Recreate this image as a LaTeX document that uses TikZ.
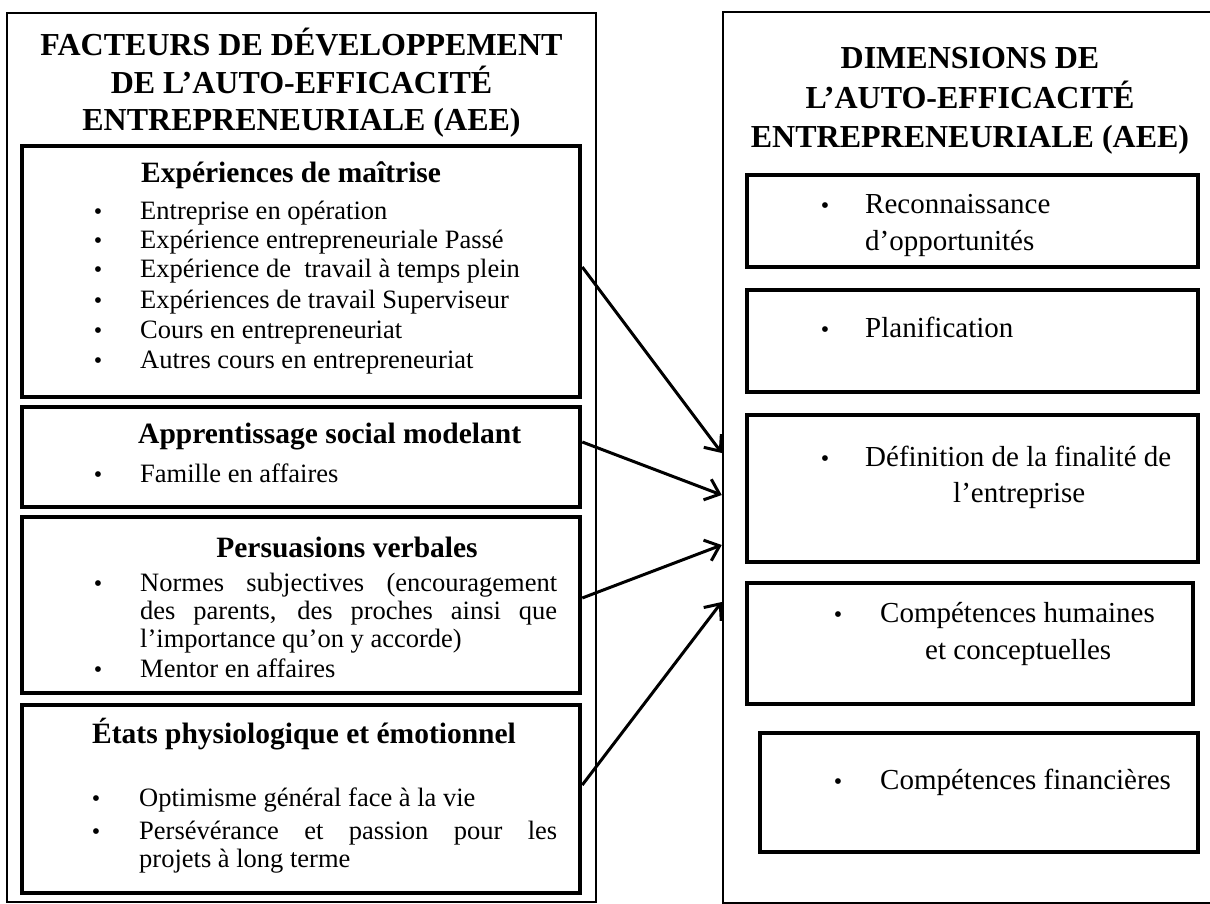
\documentclass[tikz,border=0pt]{standalone}
\usepackage{fontspec}
\setmainfont{Liberation Serif}[BoldFont={Liberation Serif Bold}]
\usetikzlibrary{arrows.meta}
\begin{document}
\begin{tikzpicture}[x=1pt,y=-1pt,
  outerbox/.style={draw, line width=2.5pt, inner sep=0pt},
  innerbox/.style={draw, line width=4.5pt, inner sep=0pt},
  rbox/.style={draw, line width=3.5pt, inner sep=0pt},
  titletxt/.style={font=\fontsize{32}{38}\selectfont\bfseries, anchor=base, inner sep=0pt},
  headtxt/.style={font=\fontsize{29.5}{34}\selectfont\bfseries, anchor=base west, inner sep=0pt},
  itemtxt/.style={font=\fontsize{26.5}{31}\selectfont, anchor=base west, inner sep=0pt},
  ritemtxt/.style={font=\fontsize{29}{35}\selectfont, anchor=base west, inner sep=0pt},
  bul/.style={font=\fontsize{24}{30}\selectfont, anchor=base, inner sep=0pt},
  arr/.style={line width=3pt, -{Straight Barb[length=13pt,width=22pt]}},
]
\path[use as bounding box, fill=white] (0,0) rectangle (1210,904);

% ---------- left column ----------
\node[outerbox, minimum width=589pt, minimum height=889pt] (L) at (301.5,457.5) {};
\node[titletxt] (lt1) at (301.5,56) {FACTEURS DE DÉVELOPPEMENT};
\node[titletxt] (lt2) at (301.5,94) {DE L’AUTO-EFFICACITÉ};
\node[titletxt] (lt3) at (301.5,131) {ENTREPRENEURIALE (AEE)};

\node[innerbox, minimum width=558pt, minimum height=251pt] (b1) at (301,271.5) {};
\node[innerbox, minimum width=558pt, minimum height=100pt] (b2) at (301,457) {};
\node[innerbox, minimum width=558pt, minimum height=176pt] (b3) at (301,605) {};
\node[innerbox, minimum width=558pt, minimum height=188pt] (b4) at (301,799) {};

% box 1
\node[headtxt] (h1) at (141,183) {Expériences de maîtrise};
\node[bul] (u11) at (98,219) {•};
\node[itemtxt] (i11) at (140,219) {Entreprise en opération};
\node[bul] (u12) at (98,248) {•};
\node[itemtxt] (i12) at (140,248) {Expérience entrepreneuriale Passé};
\node[bul] (u13) at (98,277) {•};
\node[itemtxt] (i13) at (140,277) {Expérience de\ \ travail à temps plein};
\node[bul] (u14) at (98,308) {•};
\node[itemtxt] (i14) at (140,308) {Expériences de travail Superviseur};
\node[bul] (u15) at (98,338) {•};
\node[itemtxt] (i15) at (140,338) {Cours en entrepreneuriat};
\node[bul] (u16) at (98,368) {•};
\node[itemtxt] (i16) at (140,368) {Autres cours en entrepreneuriat};

% box 2
\node[headtxt] (h2) at (138,443) {Apprentissage social modelant};
\node[bul] (u21) at (98,482) {•};
\node[itemtxt] (i21) at (140,482) {Famille en affaires};

% box 3
\node[headtxt, anchor=base] (h3) at (347,557) {Persuasions verbales};
\node[bul] (u31) at (98,591) {•};
\node[itemtxt] (i31) at (140,591) {\makebox[417pt][s]{Normes subjectives (encouragement}};
\node[itemtxt] (i32) at (140,619) {\makebox[417pt][s]{des parents, des proches ainsi que}};
\node[itemtxt] (i33) at (140,647) {l’importance qu’on y accorde)};
\node[bul] (u32) at (98,677) {•};
\node[itemtxt] (i34) at (140,677) {Mentor en affaires};

% box 4
\node[headtxt] (h4) at (92,743) {États physiologique et émotionnel};
\node[bul] (u41) at (96,806) {•};
\node[itemtxt] (i41) at (139,806) {Optimisme général face à la vie};
\node[bul] (u42) at (96,839) {•};
\node[itemtxt] (i42) at (139,839) {\makebox[418pt][s]{Persévérance et passion pour les}};
\node[itemtxt] (i43) at (139,867) {projets à long terme};

% ---------- right column ----------
\node[outerbox, minimum width=491pt, minimum height=891pt] (R) at (968.5,457.5) {};
\node[titletxt] (rt1) at (970,69) {DIMENSIONS DE};
\node[titletxt] (rt2) at (970,109) {L’AUTO-EFFICACITÉ};
\node[titletxt] (rt3) at (970,148) {ENTREPRENEURIALE (AEE)};

\node[rbox, minimum width=451pt, minimum height=92pt] (r1) at (972.5,221) {};
\node[rbox, minimum width=451pt, minimum height=102pt] (r2) at (972.5,341) {};
\node[rbox, minimum width=451pt, minimum height=147pt] (r3) at (972.5,488.5) {};
\node[rbox, minimum width=446pt, minimum height=121pt] (r4) at (970,643.5) {};
\node[rbox, minimum width=438pt, minimum height=119pt] (r5) at (979,792.5) {};

\node[bul] (v1) at (825,214) {•};
\node[ritemtxt] (j11) at (865,214) {Reconnaissance};
\node[ritemtxt] (j12) at (865,251) {d’opportunités};

\node[bul] (v2) at (825,337) {•};
\node[ritemtxt] (j21) at (865,337) {Planification};

\node[bul] (v3) at (825,466) {•};
\node[ritemtxt] (j31) at (865,466) {Définition de la finalité de};
\node[ritemtxt] (j32) at (953,502) {l’entreprise};

\node[bul] (v4) at (838,622) {•};
\node[ritemtxt] (j41) at (880,622) {Compétences humaines};
\node[ritemtxt] (j42) at (925,659) {et conceptuelles};

\node[bul] (v5) at (838,789) {•};
\node[ritemtxt] (j51) at (880,789) {Compétences financières};

% ---------- arrows ----------
\draw[arr] ([yshift=4.5pt]b1.east) -- ([yshift=4.5pt]R.west);
\draw[arr] ([yshift=15pt]b2.east) -- ([yshift=-37.5pt]R.west);
\draw[arr] ([yshift=7pt]b3.east) -- ([yshift=-87.5pt]R.west);
\draw[arr] ([yshift=14pt]b4.east) -- ([yshift=-144.5pt]R.west);
\end{tikzpicture}
\end{document}
